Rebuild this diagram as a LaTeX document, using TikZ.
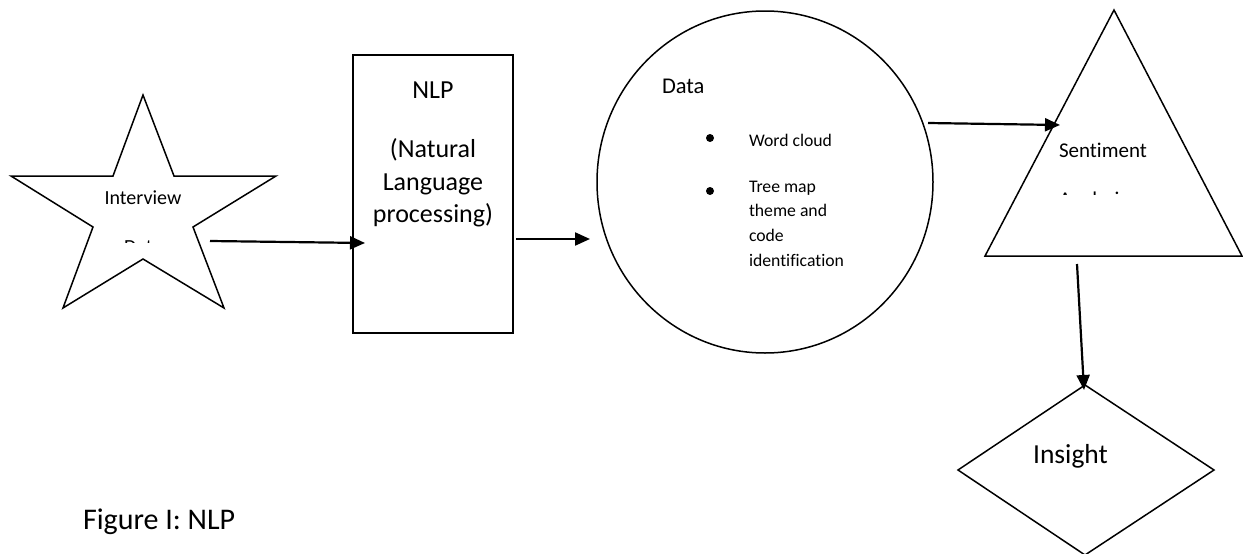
\documentclass[tikz,border=0pt]{standalone}
\usepackage{fontspec}
\setmainfont{Carlito}[Ligatures=NoCommon]
\usetikzlibrary{arrows.meta,shapes.geometric}
\begin{document}
\begin{tikzpicture}[x=1pt,y=-1pt,
  shapeline/.style={line width=1.5pt, line join=miter},
  arr/.style={line width=2.2pt, -{Triangle[length=15pt,width=13pt]}},
  lbl/.style={inner sep=0pt, outer sep=0pt},
  fA/.style={font=\fontsize{20}{24}\selectfont},
  fB/.style={font=\fontsize{26}{32}\selectfont},
  fC/.style={font=\fontsize{17.7}{22}\selectfont},
]
\useasboundingbox (0,0) rectangle (1243,554);
\fill[white] (0,0) rectangle (1243,554);

% star
\coordinate (st1) at (143,95);
\coordinate (st2) at (174,176);
\coordinate (st3) at (276,176);
\coordinate (st4) at (193,227);
\coordinate (st5) at (224,308);
\coordinate (st6) at (143,259);
\coordinate (st7) at (63,308);
\coordinate (st8) at (93,227);
\coordinate (st9) at (11,176);
\coordinate (st10) at (113,176);
\draw[shapeline] (st1) -- (st2) -- (st3) -- (st4) -- (st5) -- (st6) -- (st7) -- (st8) -- (st9) -- (st10) -- cycle;
\node[lbl, fA, anchor=base] (interview) at (143,204) {Interview};
\begin{scope}
  \clip (100,230) rectangle (190,242.3);
  \node[lbl, fA, anchor=base] (interviewdata) at (143,253) {Data};
\end{scope}

% NLP box
\node[draw, shapeline, minimum width=160pt, minimum height=278pt, inner sep=0pt] (nlp) at (433,194) {};
\node[lbl, fB, anchor=base] (nlptitle) at (433,98) {NLP};
\node[lbl, fB, anchor=base] (nlp1) at (433,157) {(Natural};
\node[lbl, fB, anchor=base] (nlp2) at (433,190) {Language};
\node[lbl, fB, anchor=base] (nlp3) at (433,222) {processing)};

% Data circle
\node[draw, shapeline, ellipse, minimum width=336pt, minimum height=342pt, inner sep=0pt] (data) at (765,182) {};
\node[lbl, font=\fontsize{22.5}{27}\selectfont, anchor=base west] (datatitle) at (662,93) {Data};
\fill (710,138) circle[radius=4pt];
\fill (710,191) circle[radius=4pt];
\node[lbl, fC, anchor=base west] (d1) at (749,146) {Word cloud};
\node[lbl, fC, anchor=base west] (d2) at (749,192) {Tree map};
\node[lbl, fC, anchor=base west] (d3) at (749,216.5) {theme and};
\node[lbl, fC, anchor=base west] (d4) at (749,241.5) {code};
\node[lbl, fC, anchor=base west] (d5) at (749,266) {identification};

% triangle
\coordinate (tr1) at (1114,10);
\coordinate (tr2) at (1242,256);
\coordinate (tr3) at (985,256);
\draw[shapeline] (tr1) -- (tr2) -- (tr3) -- cycle;
\node[lbl, font=\fontsize{21}{25}\selectfont, anchor=base west] (sentiment) at (1059,157) {Sentiment};
\begin{scope}
  \clip (1040,180) rectangle (1150,194.5);
  \node[lbl, font=\fontsize{21}{25}\selectfont, anchor=base west] (analysis) at (1059,206) {Analysis};
\end{scope}

% diamond
\coordinate (di1) at (1085,385);
\coordinate (di2) at (1214,470);
\coordinate (di3) at (1085,555);
\coordinate (di4) at (958,470);
\draw[shapeline] (di1) -- (di2) -- (di3) -- (di4) -- cycle;
\node[lbl, font=\fontsize{27.5}{33}\selectfont, anchor=base] (insight) at (1070.5,463) {Insight};

% arrows
\coordinate (a1s) at (210,241);
\coordinate (a1e) at (365,243);
\coordinate (a2s) at (516,239);
\coordinate (a2e) at (590,239);
\coordinate (a3s) at (928,123);
\coordinate (a3e) at (1060,125);
\coordinate (a4s) at (1077,264);
\coordinate (a4e) at (1084,390);
\draw[arr] (a1s) -- (a1e);
\draw[arr] (a2s) -- (a2e);
\draw[arr] (a3s) -- (a3e);
\draw[arr] (a4s) -- (a4e);

% caption
\node[lbl, font=\fontsize{30}{36}\selectfont, anchor=base west] (caption) at (83,529) {Figure I: NLP};
\end{tikzpicture}
\end{document}
